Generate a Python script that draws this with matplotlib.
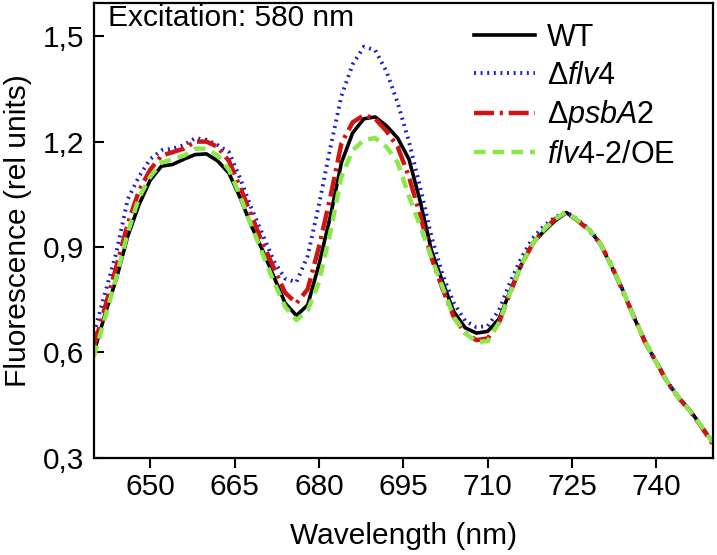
import matplotlib
matplotlib.use("Agg")
import matplotlib.pyplot as plt

plt.rcParams['font.family'] = ['Liberation Sans', 'DejaVu Sans']
plt.rcParams['mathtext.fontset'] = 'custom'
plt.rcParams['mathtext.rm'] = 'Liberation Sans'
plt.rcParams['mathtext.it'] = 'Liberation Sans:italic'

## data ##

wavelength = list(range(640, 751, 2))

wt = [0.60, 0.71, 0.81, 0.93, 1.02, 1.09, 1.13, 1.135, 1.15, 1.163,
      1.165, 1.145, 1.11, 1.04, 0.96, 0.89, 0.815, 0.74, 0.705, 0.735,
      0.85, 0.985, 1.14, 1.225, 1.265, 1.27, 1.245, 1.21, 1.15, 1.03,
      0.89, 0.80, 0.715, 0.67, 0.655, 0.66, 0.695, 0.775, 0.85, 0.91,
      0.945, 0.975, 0.998, 0.975, 0.95, 0.91, 0.845, 0.778, 0.70, 0.63,
      0.57, 0.515, 0.47, 0.435, 0.39, 0.345]

flv4 = [0.655, 0.77, 0.885, 1.035, 1.10, 1.15, 1.175, 1.18, 1.19, 1.21,
        1.205, 1.19, 1.17, 1.095, 1.01, 0.935, 0.86, 0.81, 0.80, 0.875,
        1.02, 1.18, 1.33, 1.42, 1.47, 1.46, 1.40, 1.31, 1.20, 1.07,
        0.93, 0.82, 0.74, 0.69, 0.672, 0.675, 0.72, 0.80, 0.87, 0.925,
        0.96, 0.985, 1.0, 0.978, 0.952, 0.912, 0.845, 0.778, 0.70, 0.632,
        0.57, 0.515, 0.468, 0.432, 0.39, 0.343]

psba2 = [0.617, 0.73, 0.845, 0.965, 1.06, 1.12, 1.16, 1.17, 1.18, 1.20,
         1.20, 1.185, 1.145, 1.07, 0.99, 0.91, 0.84, 0.77, 0.74, 0.78,
         0.90, 1.04, 1.195, 1.255, 1.275, 1.265, 1.23, 1.185, 1.10, 0.99,
         0.87, 0.78, 0.70, 0.655, 0.635, 0.64, 0.685, 0.77, 0.85, 0.91,
         0.95, 0.98, 0.998, 0.975, 0.948, 0.91, 0.848, 0.775, 0.702, 0.628,
         0.572, 0.513, 0.47, 0.433, 0.388, 0.34]

oe = [0.588, 0.70, 0.815, 0.94, 1.04, 1.10, 1.14, 1.15, 1.16, 1.18,
      1.18, 1.16, 1.12, 1.045, 0.96, 0.88, 0.80, 0.73, 0.692, 0.72,
      0.80, 0.94, 1.10, 1.175, 1.205, 1.21, 1.185, 1.14, 1.045, 0.96,
      0.87, 0.785, 0.70, 0.655, 0.63, 0.632, 0.685, 0.77, 0.85, 0.91,
      0.95, 0.98, 1.0, 0.976, 0.95, 0.91, 0.845, 0.778, 0.70, 0.63,
      0.57, 0.515, 0.47, 0.433, 0.39, 0.345]

xticks = [650, 665, 680, 695, 710, 725, 740]
yticks = [0.3, 0.6, 0.9, 1.2, 1.5]
ytick_labels = ["0,3", "0,6", "0,9", "1,2", "1,5"]

## plot ##

fig = plt.figure(figsize=(7.17, 5.55), dpi=100)
axis = fig.add_axes([0.131, 0.175, 0.863, 0.820])

axis.plot(wavelength, wt, color="black", lw=2.6, label="WT")
axis.plot(wavelength, flv4, color="#1a1ad0", lw=2.8, ls=(0, (0.5, 1.2)),
          label=r"Δ$\mathit{flv4}$")
axis.plot(wavelength, psba2, color="#d01414", lw=3.2, ls=(0, (4.5, 1.3, 0.7, 1.3)),
          label=r"Δ$\mathit{psbA2}$")
axis.plot(wavelength, oe, color="#8ae84a", lw=3.2, ls=(0, (2.6, 1.6)),
          label=r"$\mathit{flv4}$-$\mathit{2}$/OE")

axis.set_xlim(640, 750)
axis.set_ylim(0.3, 1.595)
axis.set_xticks(xticks)
axis.set_yticks(yticks)
axis.set_yticklabels(ytick_labels)
axis.tick_params(axis="x", direction="out", length=7, width=1.5, pad=4)
axis.tick_params(axis="y", direction="in", length=7, width=1.5, pad=7)
axis.tick_params(labelsize=21.5, top=False, right=False)
for s in axis.spines.values():
    s.set_linewidth(1.6)

axis.set_xlabel("Wavelength (nm)", fontsize=21.5, labelpad=15)
axis.set_ylabel("Fluorescence (rel units)", fontsize=21.5, labelpad=8)

axis.text(0.022, 0.998, "Excitation: 580 nm", transform=axis.transAxes,
          fontsize=21.5, va="top", ha="left")

axis.legend(loc="upper right", bbox_to_anchor=(0.969, 0.996), frameon=False,
            fontsize=22, handlelength=2.0, handletextpad=0.4,
            labelspacing=0.25, borderaxespad=0.2)

fig.savefig("out.png", dpi=100)
